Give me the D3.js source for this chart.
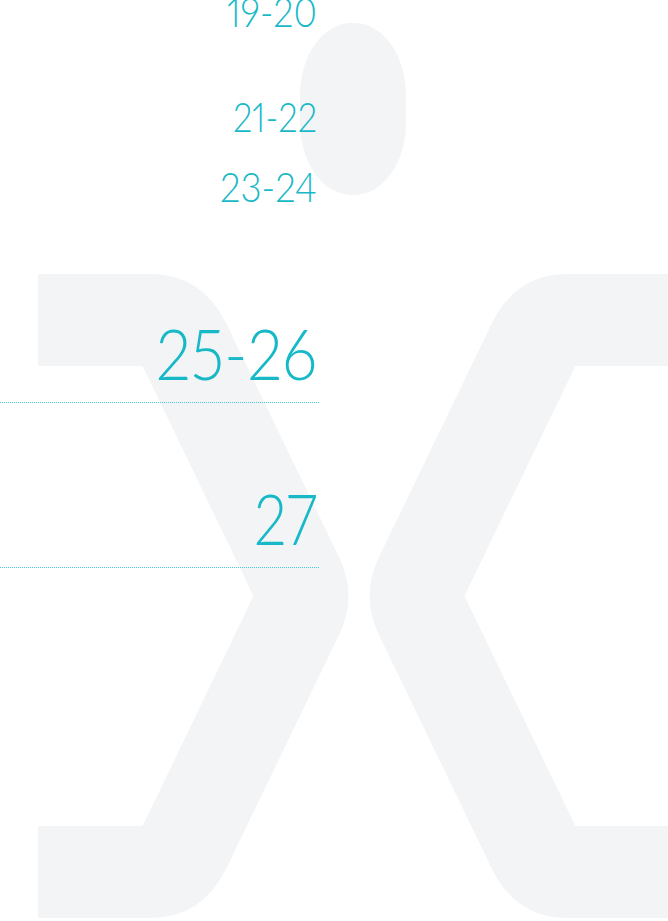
<!DOCTYPE html>
<html lang='en'>
<head>
    <meta charset='UTF-8'>
    <title>Page index</title>
    <script src='https://d3js.org/d3.v7.min.js'></script>
    <style>
        body { margin: 0; background: #fff; }
        svg { display: block; }
        #entries text { font-variant-numeric: proportional-nums; font-feature-settings: 'pnum' 1; }
    </style>
</head>
<body>
<div id='viz'></div>

<script>
// page ranges listed down the page
const labels = ['19-20', '21-22', '23-24', '25-26', '27']
const sizes = ['small', 'small', 'small', 'large', 'large']   // which entries get the big type
const ruled = [false, false, false, true, true]                // dotted rule under the entry

// layout (kept apart from the data)
const W = 668, H = 921
const baselines = [27, 132, 202, 380, 545]
const widths = [90, 84, 97, 161, 63]
const fontSize = { small: 42, large: 70 }
const teal = '#17b9c8'
const ghost = '#f3f4f6'

const svg = d3.select('#viz').append('svg')
    .attr('width', W)
    .attr('height', H)

// big faded "ox" mark behind everything
let bg = svg.append('g').attr('id', 'mark')

bg.append('rect')  // the "o"
    .attr('x', 300).attr('y', 23)
    .attr('width', 106).attr('height', 172)
    .attr('rx', 52).attr('ry', 72)
    .attr('fill', ghost)

// left chevron, built from a path then mirrored for the right one
const chevron = d3.path()
chevron.moveTo(38, 274)
chevron.lineTo(150, 274)
chevron.quadraticCurveTo(202, 274, 226, 323)
chevron.lineTo(339, 557)
chevron.quadraticCurveTo(357.8, 596, 339, 635)
chevron.lineTo(226, 869)
chevron.quadraticCurveTo(202, 918, 150, 918)
chevron.lineTo(38, 918)
chevron.lineTo(38, 826)
chevron.lineTo(142.6, 826)
chevron.lineTo(253.5, 596)
chevron.lineTo(142.6, 366)
chevron.lineTo(38, 366)
chevron.closePath()

bg.append('path')
    .attr('d', chevron.toString())
    .attr('fill', ghost)

bg.append('path')
    .attr('d', chevron.toString())
    .attr('transform', 'translate(718,0) scale(-1,1)')
    .attr('fill', ghost)

// entries
const items = labels.map((l, i) => ({ label: l, size: sizes[i], ruled: ruled[i], i: i }))

let entries = svg.append('g').attr('id', 'entries')
    .selectAll('g')
    .data(items)
    .enter()
    .append('g')
    .attr('transform', d => `translate(0, ${baselines[d.i]})`)

entries.append('text')
    .attr('x', 317)
    .attr('y', 0)
    .attr('text-anchor', 'end')
    .attr('font-family', 'Lato, "Open Sans", sans-serif')
    .attr('font-weight', 300)
    .attr('font-size', d => fontSize[d.size])
    .attr('fill', teal)
    .attr('textLength', d => widths[d.i])
    .attr('lengthAdjust', 'spacingAndGlyphs')
    .text(d => d.label)

// half-pixel offset keeps the dotted rule on one pixel row
entries.filter(d => d.ruled)
    .append('line')
    .attr('x1', 0).attr('x2', 320)
    .attr('y1', 22.5).attr('y2', 22.5)
    .attr('stroke', '#45c9d6')
    .attr('stroke-width', 1)
    .attr('stroke-dasharray', '1,1')
</script>
</body>
</html>
